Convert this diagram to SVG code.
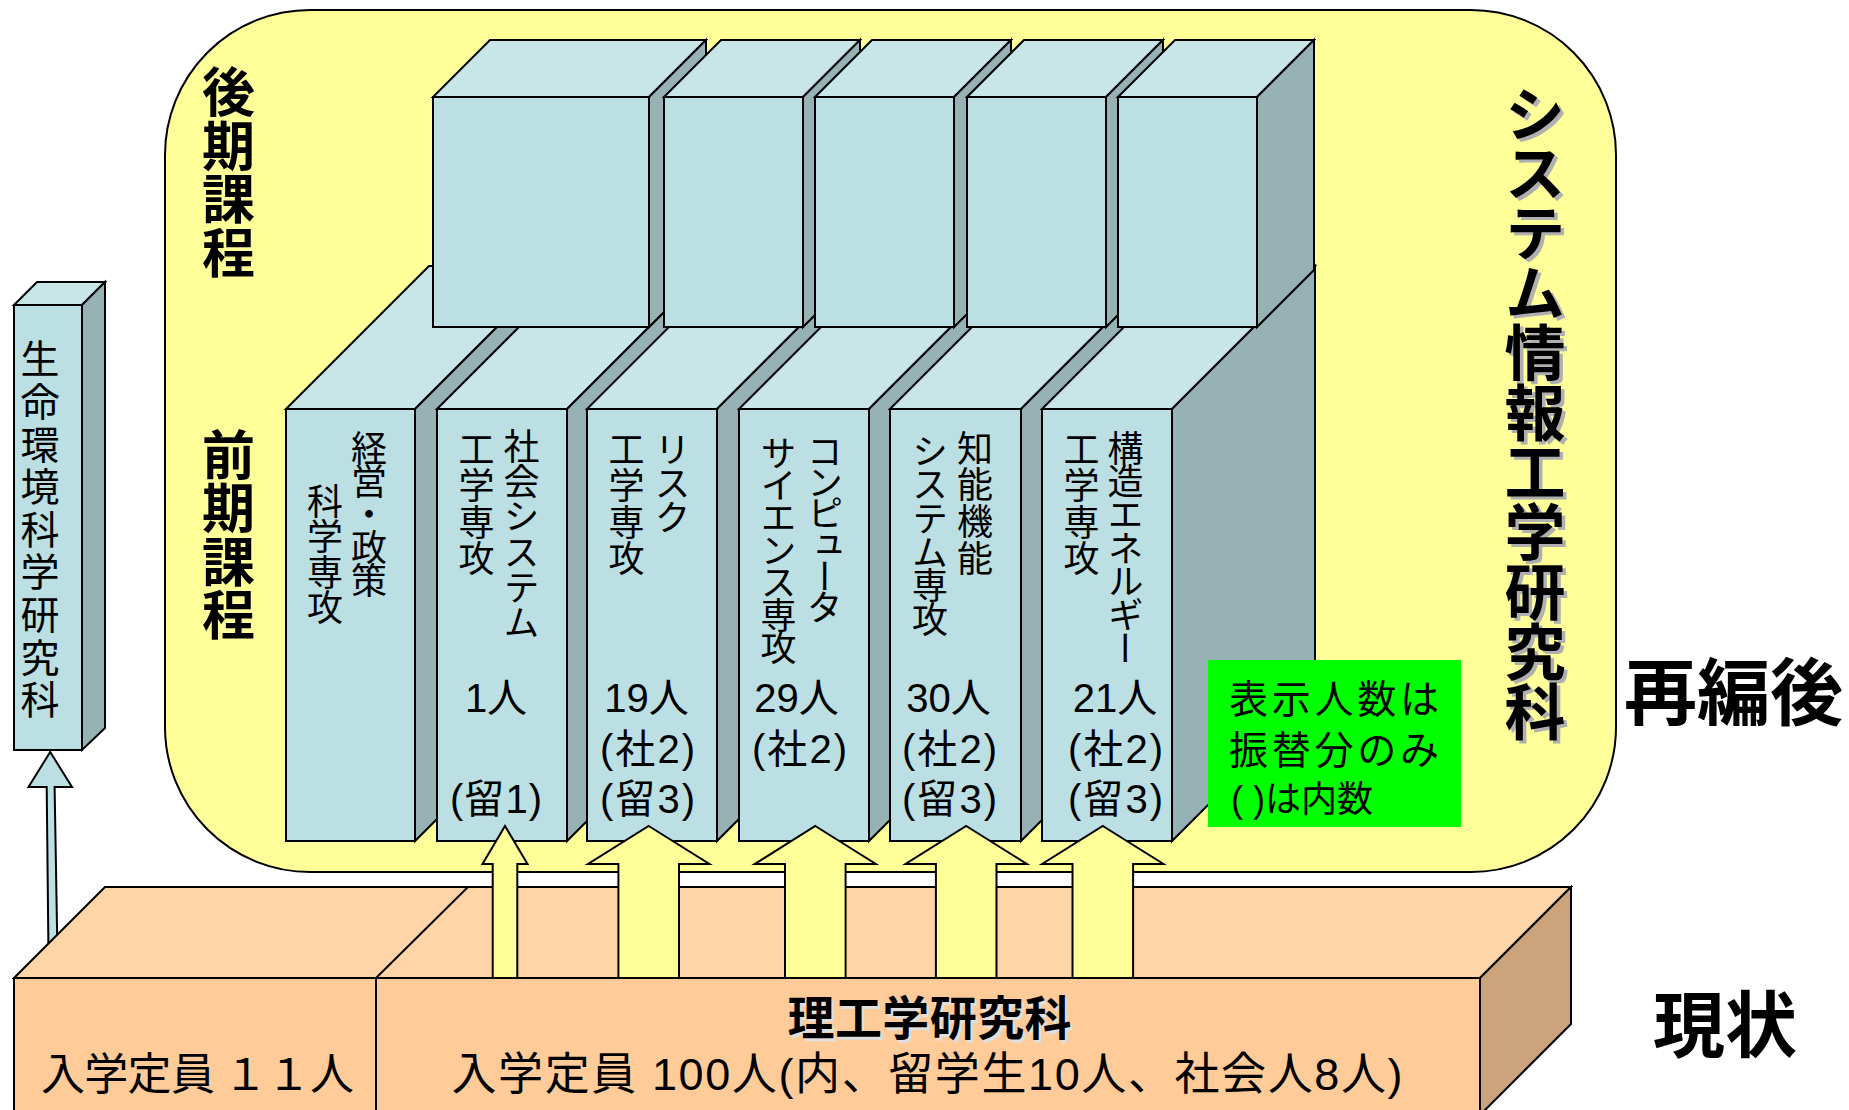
<svg xmlns="http://www.w3.org/2000/svg" width="1849" height="1110" viewBox="0 0 1849 1110">
<style>
.f{fill:#BBDFE2;stroke:#000;stroke-width:2}
.t{fill:#C8E6E8;stroke:#000;stroke-width:2}
.s{fill:#97B2B5;stroke:#000;stroke-width:2}
.of{fill:#FFCC99;stroke:#000;stroke-width:2}
.ot{fill:#FFD5A8;stroke:#000;stroke-width:2}
.os{fill:#CCA47C;stroke:#000;stroke-width:2}
.ar{fill:#FFFF99;stroke:#000;stroke-width:2;stroke-linejoin:miter}
.j{font-family:"Noto Sans CJK JP",sans-serif;fill:#000}
.m{font-family:"Liberation Sans","Noto Sans CJK JP",sans-serif;fill:#000}
.v{writing-mode:vertical-rl}
.b{font-weight:bold}
.c{font-size:36px}
.n{font-size:40px;text-anchor:middle}
</style>
<rect id="frame" x="165" y="10" width="1451" height="862" rx="145" ry="145" fill="#FFFF99" stroke="#000" stroke-width="2"/>

<g id="seimei">
<polygon class="t" points="14,305 37,282 105,282 82,305"/>
<polygon class="s" points="82,305 105,282 105,728 82,750"/>
<rect class="f" x="14" y="305" width="68" height="445"/>
<text class="j v" x="40" y="339" style="font-size:39px;letter-spacing:3.6px">生命環境科学研究科</text>
</g>

<g id="lower1">
<polygon class="t" points="286,409 429,266 558,266 415,409"/>
<polygon class="s" points="415,409 558,266 558,698 415,841"/>
<rect class="f" x="286" y="409" width="129" height="432"/>
<text class="j v c" x="369" y="430" style="letter-spacing:-3px">経営・政策</text>
<text class="j v c" x="325" y="483" style="letter-spacing:-0.5px">科学専攻</text>
</g>
<g id="lower2">
<polygon class="t" points="437,409 580,266 710,266 567,409"/>
<polygon class="s" points="567,409 710,266 710,698 567,841"/>
<rect class="f" x="437" y="409" width="130" height="432"/>
<text class="j v c" x="521.5" y="428" style="letter-spacing:-0.7px">社会システム</text>
<text class="j v c" x="476.5" y="431" style="letter-spacing:0.5px">工学専攻</text>
<text class="m n" x="496" y="712">1人</text>
<text class="m n" x="496" y="813" textLength="92" lengthAdjust="spacing">(留1)</text>
</g>
<g id="lower3">
<polygon class="t" points="587,409 730,266 860,266 717,409"/>
<polygon class="s" points="717,409 860,266 860,698 717,841"/>
<rect class="f" x="587" y="409" width="130" height="432"/>
<text class="j v c" x="672.5" y="431" style="letter-spacing:-2px">リスク</text>
<text class="j v c" x="626.5" y="431" style="letter-spacing:0.5px">工学専攻</text>
<text class="m n" x="646.5" y="712">19人</text>
<text class="m n" x="647.5" y="763" textLength="95" lengthAdjust="spacing">(社2)</text>
<text class="m n" x="647.5" y="813" textLength="95" lengthAdjust="spacing">(留3)</text>
</g>
<g id="lower4">
<polygon class="t" points="739,409 882,266 1012,266 869,409"/>
<polygon class="s" points="869,409 1012,266 1012,698 869,841"/>
<rect class="f" x="739" y="409" width="130" height="432"/>
<text class="j v c" x="825" y="433" style="letter-spacing:-4.7px">コンピュータ</text>
<text class="j v c" x="778.5" y="435" style="letter-spacing:-3.6px">サイエンス専攻</text>
<text class="m n" x="796.5" y="712">29人</text>
<text class="m n" x="799.5" y="763" textLength="95" lengthAdjust="spacing">(社2)</text>
</g>
<g id="lower5">
<polygon class="t" points="890,409 1033,266 1164,266 1021,409"/>
<polygon class="s" points="1021,409 1164,266 1164,698 1021,841"/>
<rect class="f" x="890" y="409" width="131" height="432"/>
<text class="j v c" x="975" y="430" style="letter-spacing:0.75px">知能機能</text>
<text class="j v c" x="930" y="433" style="letter-spacing:-2.3px">システム専攻</text>
<text class="m n" x="948.5" y="712">30人</text>
<text class="m n" x="949.5" y="763" textLength="95" lengthAdjust="spacing">(社2)</text>
<text class="m n" x="949.5" y="813" textLength="95" lengthAdjust="spacing">(留3)</text>
</g>
<g id="lower6">
<polygon class="t" points="1042,409 1185,266 1315,266 1172,409"/>
<polygon class="s" points="1172,409 1315,266 1315,698 1172,841"/>
<rect class="f" x="1042" y="409" width="130" height="432"/>
<text class="j v c" x="1125.5" y="430" style="letter-spacing:-2.6px">構造エネルギー</text>
<text class="j v c" x="1081.5" y="431" style="letter-spacing:0.5px">工学専攻</text>
<text class="m n" x="1115" y="712">21人</text>
<text class="m n" x="1115.5" y="763" textLength="95" lengthAdjust="spacing">(社2)</text>
<text class="m n" x="1115.5" y="813" textLength="95" lengthAdjust="spacing">(留3)</text>
</g>

<g id="upper1">
<polygon class="t" points="433,97 490,40 706,40 649,97"/>
<polygon class="s" points="649,97 706,40 706,270 649,327"/>
<rect class="f" x="433" y="97" width="216" height="230"/>
</g>
<g id="upper2">
<polygon class="t" points="664,97 721,40 860,40 803,97"/>
<polygon class="s" points="803,97 860,40 860,270 803,327"/>
<rect class="f" x="664" y="97" width="139" height="230"/>
</g>
<g id="upper3">
<polygon class="t" points="815,97 872,40 1011,40 954,97"/>
<polygon class="s" points="954,97 1011,40 1011,270 954,327"/>
<rect class="f" x="815" y="97" width="139" height="230"/>
</g>
<g id="upper4">
<polygon class="t" points="967,97 1024,40 1163,40 1106,97"/>
<polygon class="s" points="1106,97 1163,40 1163,270 1106,327"/>
<rect class="f" x="967" y="97" width="139" height="230"/>
</g>
<g id="upper5">
<polygon class="t" points="1118,97 1175,40 1314,40 1257,97"/>
<polygon class="s" points="1257,97 1314,40 1314,270 1257,327"/>
<rect class="f" x="1118" y="97" width="139" height="230"/>
</g>

<g id="note">
<rect x="1208" y="660" width="253" height="167" fill="#00FF00"/>
<text class="j" x="1229" y="713" style="font-size:39px" textLength="210" lengthAdjust="spacing">表示人数は</text>
<text class="j" x="1229" y="764" style="font-size:39px" textLength="210" lengthAdjust="spacing">振替分のみ</text>
<text class="m" x="1231" y="812" style="font-size:36px" xml:space="preserve">( )は内数</text>
</g>

<g id="connectors">
<polygon fill="#BBDFE2" stroke="#000" stroke-width="2" points="50.2,752 72,787 54.6,787 57.5,955 48.5,955 46.7,787 28.5,787"/>
</g>

<g id="current">
<polygon class="ot" points="14,978 105,887 1571,887 1480,978"/>
<line x1="376" y1="978" x2="468" y2="887" stroke="#000" stroke-width="2"/>
<polygon class="os" points="1480,978 1571,887 1571,1024 1480,1115"/>
<rect class="of" x="14" y="978" width="362" height="140"/>
<rect class="of" x="376" y="978" width="1104" height="140"/>
<text class="j" x="41" y="1090" style="font-size:44px" textLength="313" lengthAdjust="spacing">入学定員 １１人</text>
<text class="j b" x="790" y="1038" style="font-size:47px;fill:#E0E0E0" textLength="284" lengthAdjust="spacing">理工学研究科</text>
<text class="j b" x="787.5" y="1035" style="font-size:47px" textLength="284" lengthAdjust="spacing">理工学研究科</text>
<text class="m" x="451.5" y="1090" style="font-size:45px" textLength="951" lengthAdjust="spacing">入学定員 100人(内、留学生10人、社会人8人)</text>
</g>

<g id="arrows">
<polygon class="ar" points="505,826 527.5,864 517.3,864 517.3,978 492.7,978 492.7,864 482.5,864"/>
<polygon class="ar" points="648.7,826 709.4,864 679,864 679,978 618.4,978 618.4,864 588,864"/>
<polygon class="ar" points="815.3,826 875.8,864 845.6,864 845.6,978 785,978 785,864 754.8,864"/>
<polygon class="ar" points="966.2,826 1026.9,864 996.5,864 996.5,978 935.9,978 935.9,864 905.5,864"/>
<polygon class="ar" points="1102.8,826 1163.5,864 1133.1,864 1133.1,978 1072.5,978 1072.5,864 1042.1,864"/>
</g>

<g id="labels">
<text class="j v b" x="228.5" y="65.5" style="font-size:53px;letter-spacing:0.5px">後期課程</text>
<text class="j v b" x="228.5" y="428" style="font-size:53px;letter-spacing:0.5px">前期課程</text>
<text class="j v b" x="1538.5" y="86" style="font-size:61px;letter-spacing:-1.2px;fill:#B0B0B0">システム情報工学研究科</text>
<text class="j v b" x="1535" y="83" style="font-size:61px;letter-spacing:-1.2px">システム情報工学研究科</text>
<text class="j b" x="1624" y="719" style="font-size:73px">再編後</text>
<text class="j b" x="1653" y="1051" style="font-size:72px">現状</text>
</g>
</svg>
